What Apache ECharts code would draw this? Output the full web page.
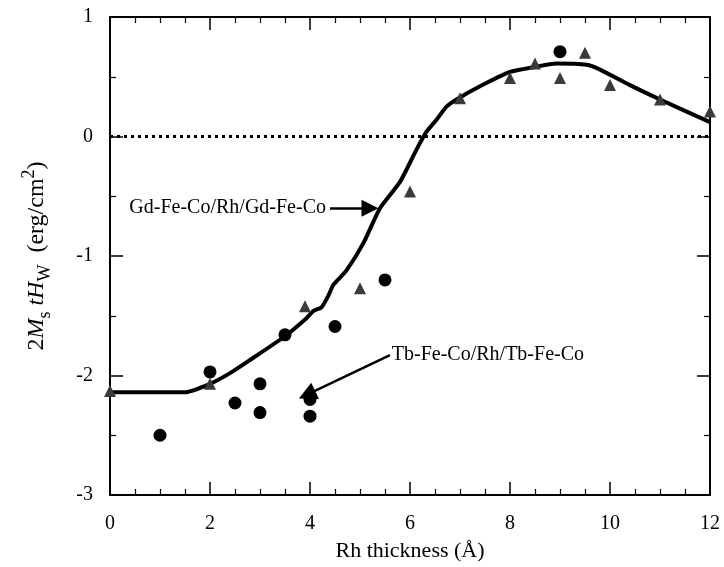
<!DOCTYPE html>
<html>
<head>
<meta charset="utf-8">
<script src="https://cdn.jsdelivr.net/npm/echarts@6.0.0/dist/echarts.min.js"></script>
<style>
html, body { margin: 0; padding: 0; background: #fff; }
#chart { width: 724px; height: 567px; }
</style>
</head>
<body>
<div id="chart"></div>
<script>
// Gd-Fe-Co/Rh/Gd-Fe-Co measured points (triangles)
const gdThickness = [0, 2, 3.9, 5, 6, 7, 8, 8.5, 9, 9.5, 10, 11, 12];
const gdValue = [-2.13, -2.07, -1.42, -1.27, -0.46, 0.32, 0.49, 0.61, 0.49, 0.70, 0.43, 0.31, 0.21];

// Tb-Fe-Co/Rh/Tb-Fe-Co measured points (circles)
const tbThickness = [1, 2, 2.5, 3, 3, 3.5, 4, 4, 4.5, 5.5, 9];
const tbValue = [-2.5, -1.97, -2.23, -2.07, -2.31, -1.66, -2.2, -2.34, -1.59, -1.2, 0.71];

// solid curve through the Gd-Fe-Co data
const fitThickness = [0, 0.8, 1.5, 2, 2.4, 2.8, 3.47, 3.93, 4.07, 4.23, 4.37, 4.47, 4.73, 5.07, 5.4, 5.8, 6.13, 6.33, 6.53, 6.73, 6.93, 7.4, 8, 8.47, 8.93, 9.53, 9.8, 10.4, 11, 12];
const fitValue = [-2.14, -2.14, -2.14, -2.07, -1.98, -1.87, -1.68, -1.52, -1.46, -1.43, -1.33, -1.24, -1.12, -0.89, -0.6, -0.38, -0.11, 0.04, 0.14, 0.25, 0.31, 0.42, 0.54, 0.58, 0.61, 0.6, 0.56, 0.43, 0.31, 0.12];

const xTicks = [0, 2, 4, 6, 8, 10, 12];
const yTicks = [-3, -2, -1, 0, 1];

const pair = (xs, ys) => xs.map((x, i) => [x, ys[i]]);
const font = 'Liberation Serif';

const chart = echarts.init(document.getElementById('chart'));

const axisCommon = {
  type: 'value',
  splitLine: { show: false },
  axisLine: { show: true, onZero: false, lineStyle: { color: '#000', width: 2 } },
  axisTick: { show: true, inside: true, length: 13, lineStyle: { color: '#000', width: 1.5 } },
  minorTick: { show: true, length: 6, lineStyle: { color: '#000', width: 1.2 } }
};

const option = {
  animation: false,
  backgroundColor: '#fff',
  grid: { left: 110, right: 14, top: 17, bottom: 72, containLabel: false, outerBoundsMode: 'none' },
  xAxis: [
    Object.assign({}, axisCommon, {
      position: 'bottom',
      min: xTicks[0], max: xTicks[xTicks.length - 1], interval: 2,
      minorTick: Object.assign({}, axisCommon.minorTick, { splitNumber: 4 }),
      axisLabel: { color: '#000', fontFamily: font, fontSize: 20, margin: 19 },
      name: 'Rh thickness (Å)',
      nameLocation: 'middle',
      nameGap: 45,
      nameTextStyle: { color: '#000', fontFamily: font, fontSize: 22 }
    }),
    Object.assign({}, axisCommon, {
      position: 'top',
      min: xTicks[0], max: xTicks[xTicks.length - 1], interval: 2,
      minorTick: Object.assign({}, axisCommon.minorTick, { splitNumber: 4 }),
      axisLabel: { show: false }
    })
  ],
  yAxis: [
    Object.assign({}, axisCommon, {
      position: 'left',
      min: yTicks[0], max: yTicks[yTicks.length - 1], interval: 1,
      minorTick: Object.assign({}, axisCommon.minorTick, { splitNumber: 2 }),
      axisLabel: { color: '#000', fontFamily: font, fontSize: 20, margin: 17 },
      name: '{n|2}{i|M}{sub|s}{i| tH}{sub|W}{n|  (erg/cm}{sup|2}{n|)}',
      nameLocation: 'middle',
      nameRotate: 90,
      nameGap: 56,
      nameTextStyle: {
        color: '#000',
        fontFamily: font,
        rich: {
          n: { fontFamily: font, fontSize: 24, color: '#000', lineHeight: 34 },
          i: { fontFamily: font, fontSize: 24, fontStyle: 'italic', color: '#000', lineHeight: 34 },
          sub: { fontFamily: font, fontSize: 18, color: '#000', verticalAlign: 'bottom', lineHeight: 18 },
          sup: { fontFamily: font, fontSize: 18, color: '#000', verticalAlign: 'top', lineHeight: 18 }
        }
      }
    }),
    Object.assign({}, axisCommon, {
      position: 'right',
      min: yTicks[0], max: yTicks[yTicks.length - 1], interval: 1,
      minorTick: Object.assign({}, axisCommon.minorTick, { splitNumber: 2 }),
      axisLabel: { show: false }
    })
  ],
  series: [
    {
      name: 'fit',
      type: 'line',
      data: pair(fitThickness, fitValue),
      showSymbol: false,
      symbol: 'none',
      smooth: 0.2,
      lineStyle: { color: '#000', width: 4 },
      z: 2,
      markLine: {
        silent: true,
        symbol: 'none',
        label: { show: false },
        lineStyle: { color: '#000', width: 3, type: [3, 4] },
        data: [{ yAxis: 0 }]
      }
    },
    {
      name: 'annotations',
      type: 'line',
      data: [],
      markLine: {
        silent: true,
        lineStyle: { color: '#000', width: 2.5, type: 'solid' },
        label: { show: true, color: '#000', fontFamily: font, fontSize: 20, distance: 4 },
        data: [
          [
            { coord: [4.4, -0.6], symbol: 'none', label: { position: 'start', formatter: 'Gd-Fe-Co/Rh/Gd-Fe-Co' } },
            { coord: [5.2, -0.6], symbol: 'triangle', symbolSize: 17 }
          ],
          [
            { coord: [5.6, -1.83], symbol: 'none', label: { position: 'start', formatter: 'Tb-Fe-Co/Rh/Tb-Fe-Co', distance: 2 } },
            { coord: [3.94, -2.16], symbol: 'triangle', symbolSize: 18 }
          ]
        ]
      }
    },
    {
      name: 'Gd-Fe-Co/Rh/Gd-Fe-Co',
      type: 'scatter',
      data: pair(gdThickness, gdValue),
      symbol: 'triangle',
      symbolSize: 12,
      itemStyle: { color: '#3a3a3a', opacity: 1 },
      z: 3
    },
    {
      name: 'Tb-Fe-Co/Rh/Tb-Fe-Co',
      type: 'scatter',
      data: pair(tbThickness, tbValue),
      symbol: 'circle',
      symbolSize: 13,
      itemStyle: { color: '#000', opacity: 1 },
      z: 4
    }
  ]
};

chart.setOption(option);
</script>
</body>
</html>
